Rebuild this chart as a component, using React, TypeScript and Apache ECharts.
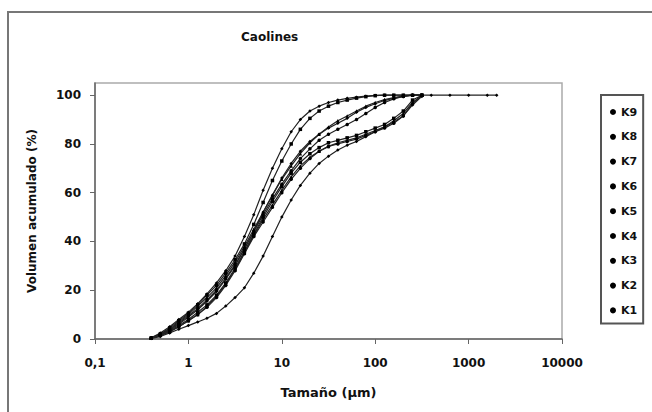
import React, { useEffect, useRef } from "react";
import * as echarts from "echarts";

const title = "Caolines";
const xName = "Tamaño (µm)";
const yName = "Volumen acumulado (%)";
const yTicks = [0, 20, 40, 60, 80, 100];

const sizes = [0.4, 0.5, 0.63, 0.79, 1, 1.26, 1.58, 2, 2.51, 3.16, 3.98, 5.01, 6.31, 7.94, 10, 12.6, 15.8, 20, 25.1, 31.6, 39.8, 50.1, 63.1, 79.4, 100, 126, 158, 200, 251, 316];
const tailSizes = [398, 631, 1000, 1585, 2000];
const tailK9 = [100, 100, 100, 100, 100];

const seriesNames = ["K9", "K8", "K7", "K6", "K5", "K4", "K3", "K2", "K1"];
const k9 = [0.5, 2.5, 5, 8, 11, 14.5, 18.5, 23, 28, 34, 42, 51, 61, 70, 78, 85, 90, 93.5, 95.5, 97, 98, 98.7, 99.2, 99.6, 99.9, 100, 100, 100, 100, 100];
const k8 = [0.4, 2, 4.5, 7.5, 10.5, 14, 18, 22, 27, 32.5, 39, 47, 56, 65, 73, 80, 86, 90.5, 93.5, 95.5, 97, 98, 98.8, 99.4, 99.8, 100, 100, 100, 100, 100];
const k7 = [0.4, 2, 4, 7, 10, 13.5, 17, 21, 26, 31.5, 38, 45, 52, 59, 65.5, 71, 76, 80.5, 84, 87, 89.5, 91.5, 93.5, 95.5, 97, 98.2, 99, 99.6, 100, 100];
const k6 = [0.3, 1.8, 3.8, 6.5, 9.5, 12.5, 16, 20, 25, 30.5, 37, 44, 51, 57.5, 63.5, 69, 74, 78, 81.5, 84, 86, 88, 90, 92.5, 95, 97, 98.5, 99.5, 100, 100];
const k5 = [0.3, 2, 3.5, 6, 9, 12, 15.5, 19.5, 24.5, 30, 37, 44, 52, 59, 66, 72, 77, 81, 84, 86.5, 88.5, 90.5, 93, 95, 96.5, 97.8, 98.8, 99.5, 100, 100];
const k4 = [0.3, 1.5, 3.2, 5.5, 8, 11, 14, 18, 23, 29, 36, 43, 50, 56.5, 62.5, 68, 72.5, 76, 78.5, 80.5, 81.5, 82.5, 83.5, 85, 86.5, 88, 90.5, 93.5, 98, 100];
const k3 = [0.3, 1.5, 3, 5, 7.5, 10, 13.5, 17.5, 22.5, 28.5, 35.5, 42.5, 49, 55, 61, 66.5, 71, 74.5, 77, 79, 80.5, 81.5, 82.5, 84, 85.5, 87, 89.5, 92.5, 97, 100];
const k2 = [0.3, 1.5, 3, 5, 7.5, 10, 13, 17, 22, 28, 35, 42, 48, 54, 60, 65.5, 70, 74, 77, 79, 80, 81, 82, 83.5, 85, 86.5, 88.5, 91.5, 96.5, 100];
const k1 = [0.2, 1, 2.5, 4, 5.5, 7, 8.5, 10.5, 13.5, 17, 21, 27, 34, 42, 50, 57, 63, 68, 72, 75, 77.5, 79.5, 81, 83, 85, 87, 89, 91.5, 96, 99.5];

const seriesValues = [k9, k8, k7, k6, k5, k4, k3, k2, k1];
const symbols = ["diamond", "rect", "triangle", "circle", "diamond", "rect", "triangle", "circle", "diamond"];

export default function App() {
  const ref = useRef<HTMLDivElement>(null);
  useEffect(() => {
    if (!ref.current) return;
    const chart = echarts.init(ref.current, null, { renderer: "svg" });
    const font = "DejaVu Sans";
    const series = seriesNames.map((name, i) => {
      const pts: [number, number][] = sizes.map((s, j) => [s, seriesValues[i][j]]);
      if (name === "K9") tailSizes.forEach((s, j) => pts.push([s, tailK9[j]]));
      return {
        name,
        type: "line",
        data: pts,
        symbol: symbols[i],
        symbolSize: 3.5,
        showSymbol: true,
        lineStyle: { width: 1.2, color: "#222" },
        itemStyle: { color: "#000" },
        z: 3,
      };
    });
    chart.setOption({
      animation: false,
      backgroundColor: "#fff",
      title: {
        text: title,
        left: 236,
        top: 26,
        textStyle: { fontFamily: font, fontSize: 12, fontWeight: "bold", color: "#111" },
      },
      graphic: [
        {
          type: "rect",
          shape: { x: 8, y: 12, width: 700, height: 500 },
          style: { fill: "none", stroke: "#777", lineWidth: 2 },
          silent: true,
        },
      ],
      legend: {
        orient: "vertical",
        left: 601,
        top: 95,
        padding: [11, 6, 7, 9],
        itemGap: 12.8,
        itemWidth: 6,
        itemHeight: 8,
        icon: "circle",
        borderColor: "#555",
        borderWidth: 2,
        data: seriesNames,
        textStyle: { fontFamily: font, fontSize: 11, fontWeight: "bold", color: "#111", lineHeight: 12 },
      },
      grid: {
        left: 95,
        right: 90,
        top: 83,
        bottom: 73,
        show: true,
        borderColor: "#aaa",
        borderWidth: 1.5,
        backgroundColor: "#fff",
      },
      xAxis: {
        type: "log",
        logBase: 10,
        min: 0.1,
        max: 10000,
        name: xName,
        nameLocation: "middle",
        nameGap: 47,
        nameTextStyle: { fontFamily: font, fontSize: 13, fontWeight: "bold", color: "#111" },
        axisLine: { lineStyle: { color: "#666", width: 1.5 } },
        axisTick: { show: true, inside: false, length: 5, lineStyle: { color: "#666" } },
        minorTick: { show: false },
        splitLine: { show: false },
        axisLabel: {
          margin: 18,
          fontFamily: font,
          fontSize: 12,
          fontWeight: "bold",
          color: "#111",
          formatter: (v: number) => (v < 1 ? String(v).replace(".", ",") : String(v)),
        },
      },
      yAxis: {
        type: "value",
        min: 0,
        max: 105,
        name: yName,
        nameLocation: "middle",
        nameGap: 57,
        nameTextStyle: { fontFamily: font, fontSize: 12, fontWeight: "bold", color: "#111" },
        axisLine: { show: true, lineStyle: { color: "#666", width: 1.5 } },
        axisTick: { show: true, length: 5, customValues: yTicks, lineStyle: { color: "#666" } },
        splitLine: { show: false },
        axisLabel: {
          margin: 14,
          customValues: yTicks,
          fontFamily: font,
          fontSize: 12,
          fontWeight: "bold",
          color: "#111",
        },
      },
      series,
    });
    return () => chart.dispose();
  }, []);
  return (
    <div
      ref={ref}
      style={{ position: "fixed", left: 0, top: 0, width: 652, height: 412 }}
    />
  );
}
